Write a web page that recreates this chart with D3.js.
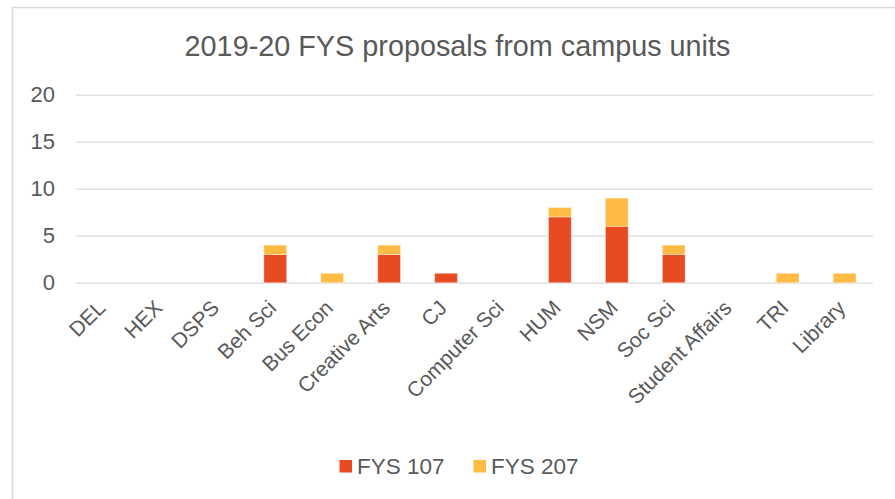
<!DOCTYPE html>
<html>
<head>
<meta charset="utf-8">
<script src="https://cdn.jsdelivr.net/npm/d3@7"></script>
<style>
  html, body { margin: 0; padding: 0; background: #fff; }
  svg { display: block; font-family: "Liberation Sans", Arial, sans-serif; }
</style>
</head>
<body>
<svg id="chart" width="895" height="499"></svg>
<script>
const categories = ["DEL", "HEX", "DSPS", "Beh Sci", "Bus Econ", "Creative Arts", "CJ",
  "Computer Sci", "HUM", "NSM", "Soc Sci", "Student Affairs", "TRI", "Library"];
const fys107 = [0, 0, 0, 3, 0, 3, 1, 0, 7, 6, 3, 0, 0, 0];
const fys207 = [0, 0, 0, 1, 1, 1, 0, 0, 1, 3, 1, 0, 1, 1];
const seriesNames = ["FYS 107", "FYS 207"];
const seriesColors = ["#E64B22", "#FFBB44"];
const yTicks = [0, 5, 10, 15, 20];
const title = "2019-20 FYS proposals from campus units";

const svg = d3.select("#chart");
const textColor = "#595959";
const gridColor = "#d9d9d9";

// outer chart frame
svg.append("rect")
  .attr("x", 12.5).attr("y", 7.5)
  .attr("width", 900).attr("height", 520)
  .attr("fill", "#fff")
  .attr("stroke", gridColor).attr("stroke-width", 1.5);

const plot = { left: 76, right: 873, top: 94.7, bottom: 282.7 };

const x = d3.scaleBand()
  .domain(categories)
  .range([plot.left, plot.right])
  .paddingInner(0.6)
  .paddingOuter(0.3);

const y = d3.scaleLinear()
  .domain([0, 20])
  .range([plot.bottom, plot.top]);

// title
svg.append("text")
  .attr("x", 457.5).attr("y", 56)
  .attr("text-anchor", "middle")
  .attr("font-size", 28.8)
  .attr("fill", textColor)
  .text(title);

// gridlines + y axis labels
const yAxis = d3.axisLeft(y)
  .tickValues(yTicks)
  .tickSize(-(plot.right - plot.left))
  .tickPadding(21);
const yg = svg.append("g")
  .attr("transform", `translate(${plot.left},0)`)
  .call(yAxis);
yg.select(".domain").remove();
yg.selectAll(".tick line")
  .attr("stroke", gridColor).attr("stroke-width", 1.3);
yg.selectAll(".tick text")
  .attr("fill", textColor)
  .attr("font-size", 22)
  .attr("font-family", "Liberation Sans, Arial, sans-serif");

// stacked bars
const stackData = categories.map((c, i) => ({ cat: c, s0: fys107[i], s1: fys207[i] }));
const stack = d3.stack().keys(["s0", "s1"]);
const layers = stack(stackData);

svg.append("g").selectAll("g")
  .data(layers)
  .join("g")
  .attr("fill", (d, i) => seriesColors[i])
  .selectAll("rect")
  .data(d => d.filter(p => p[1] - p[0] > 0))
  .join("rect")
  .attr("x", d => x(d.data.cat))
  .attr("width", x.bandwidth())
  .attr("y", d => y(d[1]))
  .attr("height", d => y(d[0]) - y(d[1]))
  .attr("stroke", "#ffffff")
  .attr("stroke-opacity", 0.35)
  .attr("stroke-width", 1);

// x axis labels rotated
const xg = svg.append("g");
xg.selectAll("text")
  .data(categories)
  .join("text")
  .attr("transform", d => `translate(${x(d) + x.bandwidth() / 2 - 3},${304}) rotate(-45)`)
  .attr("text-anchor", "end")
  .attr("dy", "0.35em")
  .attr("font-size", 21)
  .attr("fill", textColor)
  .text(d => d);

// legend
const legendItems = [
  { name: seriesNames[0], color: seriesColors[0], sx: 339.5, tx: 357 },
  { name: seriesNames[1], color: seriesColors[1], sx: 473.5, tx: 491 }
];
const lg = svg.append("g");
legendItems.forEach(it => {
  lg.append("rect")
    .attr("x", it.sx).attr("y", 460)
    .attr("width", 12.5).attr("height", 12.5)
    .attr("fill", it.color);
  lg.append("text")
    .attr("x", it.tx).attr("y", 473.5)
    .attr("font-size", 22.5)
    .attr("fill", textColor)
    .text(it.name);
});
</script>
</body>
</html>
